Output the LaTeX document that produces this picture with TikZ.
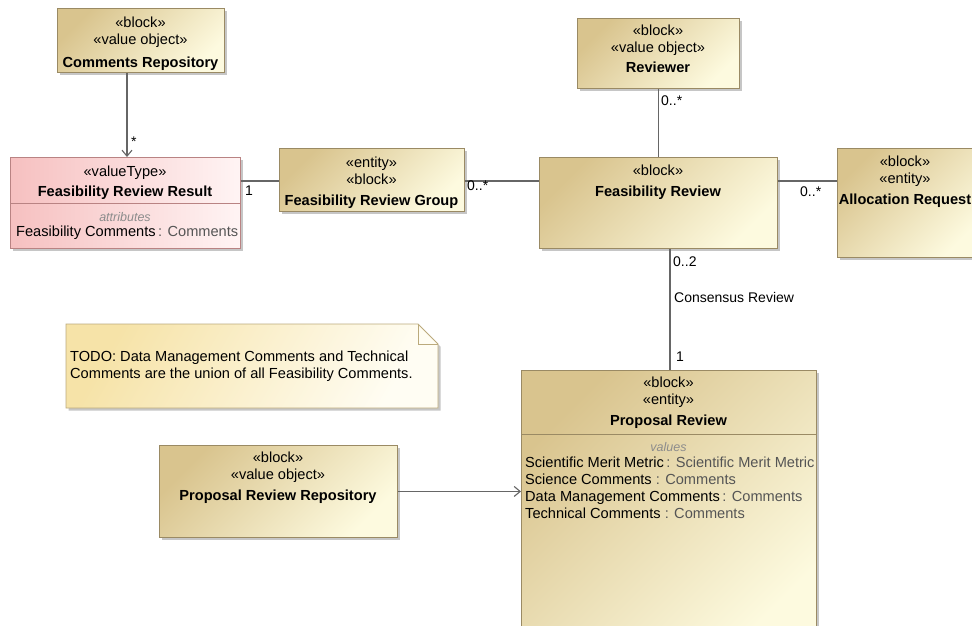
\documentclass[tikz,border=0pt]{standalone}
\usepackage{fontspec}
\setmainfont{Liberation Sans}
\usetikzlibrary{shadows,arrows.meta,calc}
\definecolor{tanA}{HTML}{D9C48E}
\definecolor{tanB}{HTML}{FDFADF}
\definecolor{tanD}{HTML}{9A8A64}
\definecolor{pinkA}{HTML}{F6C0C0}
\definecolor{pinkB}{HTML}{FFF4F4}
\definecolor{pinkD}{HTML}{B98383}
\definecolor{noteA}{HTML}{F6E3A8}
\definecolor{noteB}{HTML}{FFFDF3}
\definecolor{noteD}{HTML}{BBAA7C}
\definecolor{lineC}{HTML}{666666}
\definecolor{typeC}{HTML}{555555}
\tikzset{
  shd/.style={drop shadow={shadow xshift=2.5pt, shadow yshift=-2.5pt, fill=black!50, opacity=0.45}},
  blk/.style={draw=tanD, line width=0.9pt, top color=tanA, bottom color=tanB, shading angle=45, shd, inner sep=0pt, anchor=north west},
  vt/.style={draw=pinkD, line width=0.9pt, left color=pinkA, right color=pinkB, shd, inner sep=0pt, anchor=north west},
  txt/.style={font=\fontsize{14.6}{17}\selectfont, align=center, inner sep=0pt, anchor=north},
  atr/.style={font=\fontsize{14.6}{17}\selectfont, align=left, inner sep=0pt, anchor=north west},
  cmp/.style={font=\itshape\fontsize{12.5}{14}\selectfont, text=black!45, inner sep=0pt, anchor=base},
  mult/.style={font=\fontsize{14}{16}\selectfont, inner sep=0pt, anchor=west},
  assoc/.style={draw=lineC, line width=1.1pt},
  nav/.style={assoc, -{Straight Barb[length=6pt,width=10pt,line width=1.1pt]}},
}
\newcommand{\tp}[1]{\textcolor{typeC}{#1}}
\begin{document}
\begin{tikzpicture}[x=1pt,y=-1pt]
\path[use as bounding box] (0,0) rectangle (972,625);
\clip (0,0) rectangle (972,625);

% Comments Repository
\node[blk, minimum width=167pt, minimum height=64pt] (cr) at (57,8) {};
\node[txt] (crt) at (140.5,16.5) {«block»\\«value object»\\[6pt]\textbf{Comments Repository}};

% Feasibility Review Result
\node[vt, minimum width=230pt, minimum height=91pt] (frr) at (10,157) {};
\draw[pinkD, line width=0.9pt] (frr.west |- 0,203) -- (frr.east |- 0,203);
\node[txt] (frrt) at (125,165.5) {«valueType»\\[3pt]\textbf{Feasibility Review Result}};
\node[cmp] (frrc) at (125,221) {attributes};
\node[atr] (frra) at (16,225.5) {Feasibility Comments\,\tp{: Comments}};

% Feasibility Review Group
\node[blk, minimum width=185pt, minimum height=63pt] (frg) at (279,148) {};
\node[txt] (frgt) at (371.5,156.5) {«entity»\\«block»\\[4pt]\textbf{Feasibility Review Group}};

% Reviewer
\node[blk, minimum width=162pt, minimum height=70pt] (rev) at (577,18) {};
\node[txt] (revt) at (658,25) {«block»\\«value object»\\[3pt]\textbf{Reviewer}};

% Feasibility Review
\node[blk, minimum width=238pt, minimum height=91pt] (fr) at (539,157) {};
\node[txt] (frt) at (658,164.5) {«block»\\[4pt]\textbf{Feasibility Review}};

% Allocation Request
\node[blk, minimum width=142pt, minimum height=109pt] (ar) at (837,148) {};
\node[txt] (art) at (905,155.5) {«block»\\«entity»\\[4pt]\textbf{Allocation Request}};

% Note
\path[draw=noteD, line width=0.9pt, top color=noteA, bottom color=noteB, shading angle=60, shd]
  (66,324) -- (418,324) -- (438,344) -- (438,408) -- (66,408) -- cycle;
\draw[noteD, line width=0.9pt] (418,324) -- (418,344) -- (438,344);
\node[atr] (note) at (70,350.5) {TODO: Data Management Comments and Technical\\Comments are the union of all Feasibility Comments.};

% Proposal Review Repository
\node[blk, minimum width=238pt, minimum height=92pt] (prr) at (159,445) {};
\node[txt] (prrt) at (278,451.5) {«block»\\«value object»\\[4pt]\textbf{Proposal Review Repository}};

% Proposal Review
\node[blk, minimum width=295pt, minimum height=280pt] (pr) at (521,370) {};
\draw[tanD, line width=0.9pt] (pr.west |- 0,434) -- (pr.east |- 0,434);
\node[txt] (prt) at (668.5,376.5) {«block»\\«entity»\\[4pt]\textbf{Proposal Review}};
\node[cmp] (prc) at (668.5,451) {values};
\node[atr] (pra) at (525,456.5) {Scientific Merit Metric\,\tp{: Scientific Merit Metric}\\
Science Comments \tp{: Comments}\\
Data Management Comments\,\tp{: Comments}\\
Technical Comments \tp{: Comments}};

% connectors
\coordinate (vx1) at (127,0);
\coordinate (hy1) at (0,181);
\coordinate (vx2) at (670,0);
\draw[nav] (vx1 |- cr.south) -- (vx1 |- frr.north);
\draw[assoc] (frr.east |- hy1) -- (frg.west |- hy1);
\draw[assoc] (frg.east |- hy1) -- (fr.west |- hy1);
\draw[assoc] (fr.east |- hy1) -- (ar.west |- hy1);
\draw[assoc] (rev.south) -- (fr.north);
\draw[assoc] (vx2 |- fr.south) -- (vx2 |- pr.north);
\draw[nav] (prr.east) -- (pr.west |- prr.east);

% multiplicities
\node[mult] (m1) at (131,142) {*};
\node[mult] (m2) at (245,191) {1};
\node[mult] (m3) at (467,186) {0..*};
\node[mult] (m4) at (661,101) {0..*};
\node[mult] (m5) at (800,192) {0..*};
\node[mult] (m6) at (673,262) {0..2};
\node[mult] (m7) at (674,297) {Consensus Review};
\node[mult] (m8) at (676,357) {1};
\end{tikzpicture}
\end{document}
